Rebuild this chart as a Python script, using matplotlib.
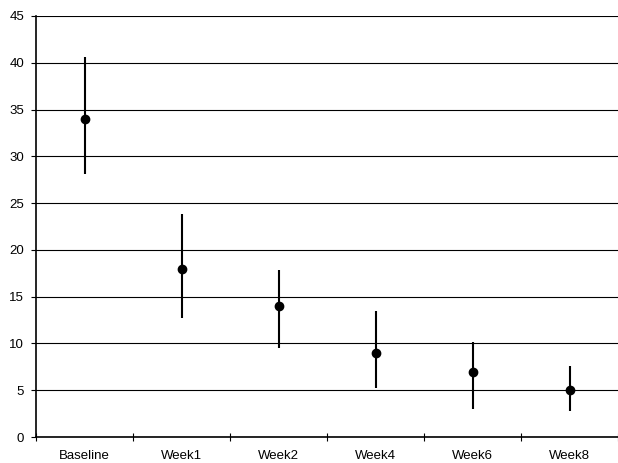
import matplotlib.pyplot as plt
import numpy as np

plt.rcParams['font.family'] = ['Liberation Sans', 'DejaVu Sans']

# data
labels = ['Baseline', 'Week1', 'Week2', 'Week4', 'Week6', 'Week8']
means = [34.0, 18.0, 14.0, 9.0, 7.0, 5.0]
upper = [40.6, 23.8, 17.9, 13.5, 10.2, 7.6]
lower = [28.1, 12.7, 9.5, 5.2, 3.0, 2.8]

x = np.arange(len(labels))
yerr = [np.array(means) - np.array(lower), np.array(upper) - np.array(means)]

fig = plt.figure(figsize=(6.18, 4.63), dpi=100)
ax = fig.add_axes([36 / 618, 1 - 437 / 463, 1 - 36 / 618, 421 / 463])

ax.errorbar(x, means, yerr=yerr, fmt='o', color='black', ecolor='black',
            elinewidth=1.5, markersize=6, capsize=0, zorder=3)

ax.set_xlim(-0.5, len(labels) - 0.5)
ax.set_ylim(0, 45)
ax.set_yticks(range(0, 50, 5))
ax.yaxis.grid(True, color='black', linewidth=0.8)
ax.set_axisbelow(True)

# category labels centred, tick marks between categories
ax.set_xticks(x)
ax.set_xticklabels(labels)
ax.set_xticks(np.arange(-0.5, len(labels)), minor=True)
ax.tick_params(axis='x', which='major', length=0, pad=9.5, labelsize=9.5)
ax.tick_params(axis='x', which='minor', direction='inout', length=6, width=0.8)
ax.tick_params(axis='y', direction='out', length=3.5, width=0.8, pad=5, labelsize=9.5)

for s in ['top', 'right']:
    ax.spines[s].set_visible(False)
ax.spines['left'].set_linewidth(1.2)
ax.spines['bottom'].set_linewidth(1.2)

fig.savefig('out.png', dpi=100)
